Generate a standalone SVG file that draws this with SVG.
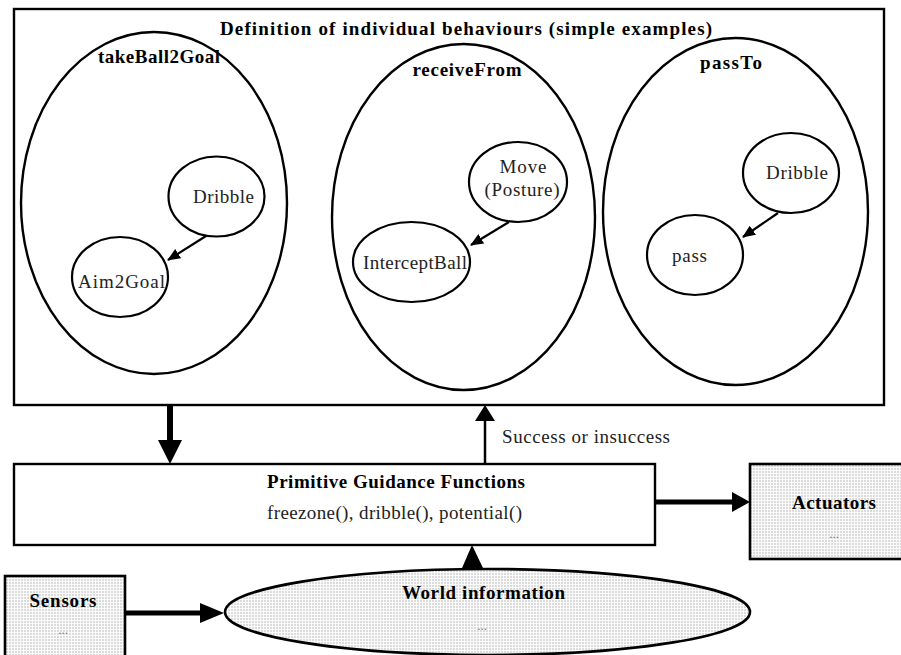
<svg xmlns="http://www.w3.org/2000/svg" width="901" height="655" viewBox="0 0 901 655">
<defs>
<pattern id="dots" width="3" height="3" patternUnits="userSpaceOnUse"><rect width="3" height="3" fill="#fafafa"/><rect width="2" height="2" fill="#dcdcdc"/></pattern>
<marker id="ah" markerWidth="13" markerHeight="11" refX="12" refY="5.5" orient="auto" markerUnits="userSpaceOnUse"><path d="M0,0 L13,5.5 L0,11 Z" fill="#000"/></marker>
</defs>
<style>
.box{fill:#fff;stroke:#000;stroke-width:2.4}
.el{fill:none;stroke:#000;stroke-width:2.4}
.node{fill:#fff;stroke:#000;stroke-width:2.2}
.hatch{fill:url(#dots);stroke:#000;stroke-width:2.6}
.b{font-family:"Liberation Serif",serif;font-weight:bold;font-size:19px;fill:#000;text-anchor:middle}
.t{font-family:"Liberation Serif",serif;font-size:19px;fill:#222;text-anchor:middle}
.d{font-family:"Liberation Serif",serif;font-size:13px;fill:#777;text-anchor:middle}
.thin{stroke:#000;stroke-width:2.2;fill:none}
</style>
<g id="behaviours">
<rect class="box" x="14" y="9" width="870" height="396"/>
<text class="b" x="466" y="35" textLength="492" lengthAdjust="spacing">Definition of individual behaviours (simple examples)</text>
</g>
<g id="takeBall2Goal">
<ellipse class="el" cx="154" cy="203" rx="133" ry="171"/>
<text class="b" x="159" y="63" textLength="122" lengthAdjust="spacing">takeBall2Goal</text>
</g>
<g id="receiveFrom">
<ellipse class="el" cx="463.5" cy="217" rx="131.5" ry="173"/>
<text class="b" x="467" y="76" textLength="109" lengthAdjust="spacing">receiveFrom</text>
</g>
<g id="passTo">
<ellipse class="el" cx="735.5" cy="211.5" rx="132.5" ry="173.5"/>
<text class="b" x="731" y="69" textLength="62" lengthAdjust="spacing">passTo</text>
</g>
<g id="tb-dribble">
<ellipse class="node" cx="216.5" cy="196.5" rx="48" ry="40"/>
<text class="t" x="223.5" y="203" textLength="61" lengthAdjust="spacing">Dribble</text>
</g>
<g id="tb-aim2goal">
<ellipse class="node" cx="120" cy="277" rx="48" ry="40"/>
<text class="t" x="121.5" y="288" textLength="87" lengthAdjust="spacing">Aim2Goal</text>
</g>
<g id="rf-move">
<ellipse class="node" cx="518" cy="182" rx="49" ry="40"/>
<text class="t" x="523" y="173" textLength="47" lengthAdjust="spacing">Move</text>
<text class="t" x="522" y="196" textLength="75" lengthAdjust="spacing">(Posture)</text>
</g>
<g id="rf-intercept">
<ellipse class="node" cx="411.5" cy="262" rx="58.5" ry="40"/>
<text class="t" x="415" y="269" textLength="104" lengthAdjust="spacing">InterceptBall</text>
</g>
<g id="pt-dribble">
<ellipse class="node" cx="791" cy="173" rx="48" ry="40"/>
<text class="t" x="797" y="179" textLength="62" lengthAdjust="spacing">Dribble</text>
</g>
<g id="pt-pass">
<ellipse class="node" cx="695" cy="255" rx="48" ry="40"/>
<text class="t" x="689.5" y="262" textLength="35" lengthAdjust="spacing">pass</text>
</g>
<g id="pgf">
<rect class="box" x="14" y="464" width="641" height="81"/>
<text class="b" x="396" y="488" textLength="258" lengthAdjust="spacing">Primitive Guidance Functions</text>
<text class="t" x="394.5" y="519" textLength="255" lengthAdjust="spacing">freezone(), dribble(), potential()</text>
</g>
<g id="actuators">
<rect class="hatch" x="750" y="464" width="155" height="95"/>
<text class="b" x="834" y="509" textLength="84" lengthAdjust="spacing">Actuators</text>
<text class="d" x="834" y="538">...</text>
</g>
<g id="sensors">
<rect class="hatch" x="5" y="576" width="120" height="85"/>
<text class="b" x="63" y="607" textLength="67" lengthAdjust="spacing">Sensors</text>
<text class="d" x="63" y="634">...</text>
</g>
<g id="world">
<ellipse class="hatch" cx="487.5" cy="612" rx="262.5" ry="43"/>
<text class="b" x="483.5" y="599" textLength="163" lengthAdjust="spacing">World information</text>
<text class="d" x="482" y="630">...</text>
</g>
<g id="connectors">
<line class="thin" x1="206" y1="236" x2="168" y2="260" marker-end="url(#ah)"/>
<line class="thin" x1="509" y1="222" x2="471" y2="245" marker-end="url(#ah)"/>
<line class="thin" x1="778" y1="213" x2="743" y2="237" marker-end="url(#ah)"/>
<line x1="170" y1="405" x2="170" y2="442" stroke="#000" stroke-width="6"/>
<path d="M158,440 L182,440 L170,464 Z" fill="#000"/>
<line x1="485" y1="464" x2="485" y2="418" stroke="#000" stroke-width="2.5"/>
<path d="M475,421 L495,421 L485,405 Z" fill="#000"/>
<text class="t" x="586" y="443" textLength="168" lengthAdjust="spacing">Success or insuccess</text>
<line x1="655" y1="502" x2="734" y2="502" stroke="#000" stroke-width="5"/>
<path d="M732,492 L750,502 L732,512 Z" fill="#000"/>
<line x1="125" y1="613" x2="202" y2="613" stroke="#000" stroke-width="5"/>
<path d="M200,603 L224,613 L200,623 Z" fill="#000"/>
<path d="M462,568 L483,568 L472,545 Z" fill="#000"/>
</g>
</svg>
